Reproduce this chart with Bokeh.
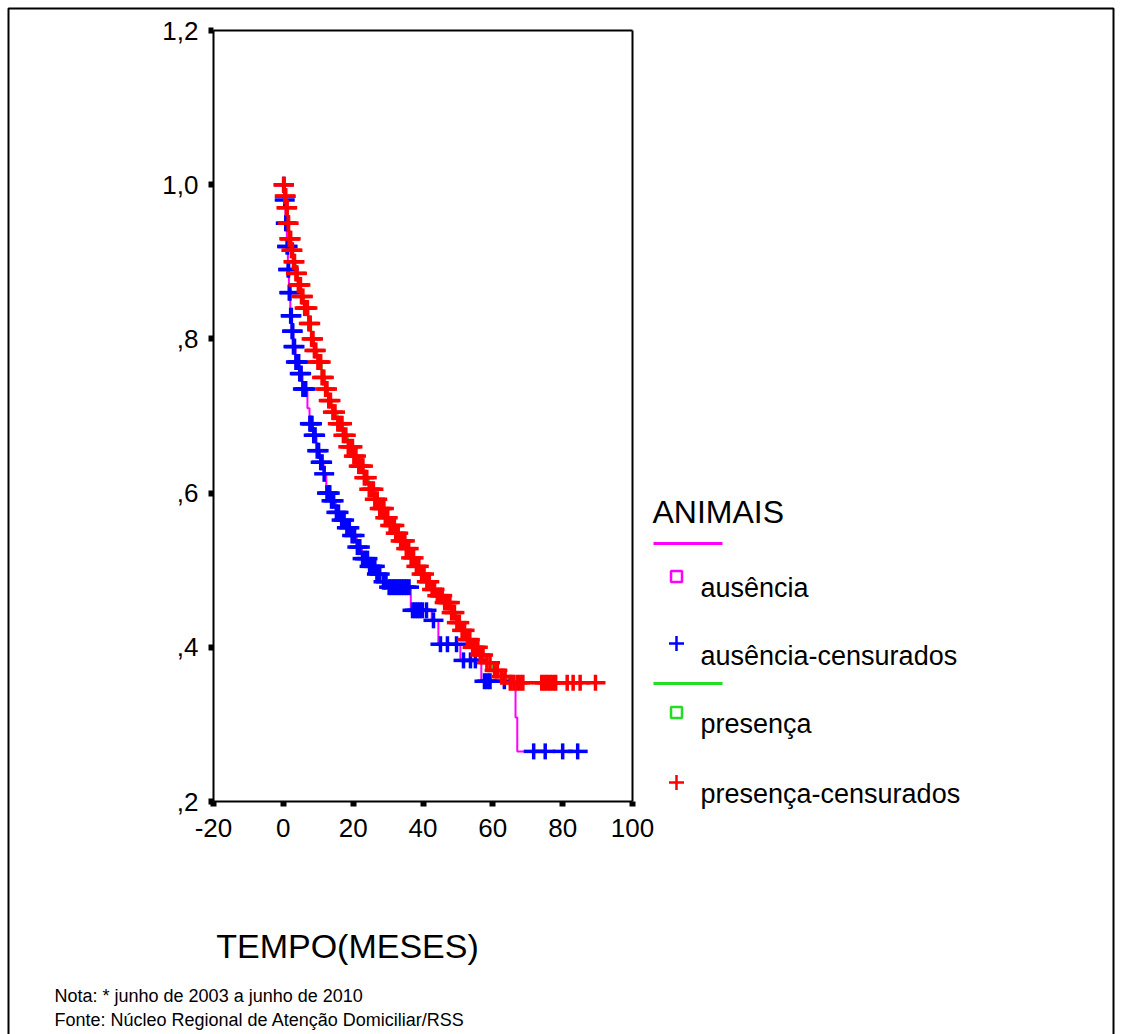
import math
from bokeh.plotting import figure
from bokeh.models import Range1d, FixedTicker, LinearAxis, BoxAnnotation
from bokeh.core.properties import value
from bokeh.embed import file_html
from bokeh.resources import INLINE

# ---------------- data ----------------
# Kaplan-Meier step curve, group "ausência" (time in months, survival)
aus_times = [0, 0.3, 0.6, 1.0, 1.3, 1.6, 2.0, 2.4, 2.8, 3.5, 4.5, 5.5, 6.9, 7.5, 8.5, 9.5,
             10.5, 11.5, 12.3, 13.5, 15.0, 16.5, 18.0, 19.5, 21.0, 22.5, 24.5, 26.5, 28.5,
             30.0, 36.5, 42.5, 44.4, 50.7, 56.7, 66.5, 67.0, 84.3]
aus_surv = [1.0, 0.98, 0.95, 0.92, 0.89, 0.86, 0.83, 0.81, 0.79, 0.77, 0.755, 0.735, 0.71,
            0.69, 0.675, 0.655, 0.64, 0.625, 0.60, 0.59, 0.575, 0.565, 0.555, 0.545, 0.53,
            0.515, 0.505, 0.495, 0.485, 0.478, 0.448, 0.435, 0.404, 0.383, 0.356, 0.309,
            0.265, 0.265]
# censored observations, group "ausência"
aus_cens_t = [0.1, 0.4, 0.7, 0.9, 1.1, 1.2, 1.4, 1.5, 1.7, 1.9, 2.1, 2.3, 2.5, 2.7, 2.9, 3.2,
              3.6, 4.0, 4.4, 4.7, 5.1, 5.6, 6.0, 6.4, 7.6, 7.9, 8.2, 8.7, 9.1, 9.7, 10.1,
              10.7, 11.1, 11.7, 12.5, 12.9, 13.3, 13.8, 14.4, 15.2, 15.8, 16.7, 17.4, 18.2,
              18.9, 19.7, 20.4, 21.2, 21.9, 22.7, 23.4, 24.1, 24.7, 25.5, 26.2, 26.8, 27.6,
              28.7, 29.4, 30.3, 31.0, 31.7, 32.4, 33.1, 33.8, 34.5, 35.2, 36.0, 37.0, 37.7,
              38.4, 39.1, 39.8, 41.0, 43.0, 45.0, 47.0, 49.6, 51.6, 53.6, 55.0, 57.6, 58.4,
              59.2, 63.3, 71.7, 75.0, 80.0, 84.3]
aus_cens_s = [1.0, 0.98, 0.95, 0.95, 0.92, 0.92, 0.89, 0.89, 0.86, 0.86, 0.83, 0.83, 0.81,
              0.81, 0.79, 0.79, 0.77, 0.77, 0.77, 0.755, 0.755, 0.735, 0.735, 0.735, 0.69,
              0.69, 0.69, 0.675, 0.675, 0.655, 0.655, 0.64, 0.64, 0.625, 0.60, 0.60, 0.60,
              0.59, 0.59, 0.575, 0.575, 0.565, 0.565, 0.555, 0.555, 0.545, 0.545, 0.53, 0.53,
              0.515, 0.515, 0.515, 0.505, 0.505, 0.505, 0.495, 0.495, 0.485, 0.485, 0.478,
              0.478, 0.478, 0.478, 0.478, 0.478, 0.478, 0.478, 0.478, 0.448, 0.448, 0.448,
              0.448, 0.448, 0.448, 0.435, 0.404, 0.404, 0.404, 0.383, 0.383, 0.383, 0.356,
              0.356, 0.356, 0.356, 0.265, 0.265, 0.265, 0.265]

# Kaplan-Meier step curve, group "presença"
pre_times = [0, 0.3, 0.8, 1.3, 1.6, 2.2, 2.8, 3.5, 4.2, 5.0, 6.0, 7.2, 8.0, 8.8, 9.8, 11.0,
             12.0, 12.8, 14.0, 15.5, 17.0, 18.5, 20.0, 21.5, 23.0, 24.5, 26.0, 27.5, 29.0,
             30.5, 32.0, 33.5, 35.0, 36.5, 38.0, 39.5, 41.0, 42.5, 44.0, 46.0, 48.0, 49.5,
             51.0, 52.5, 54.0, 56.0, 58.0, 60.0, 62.0, 64.5, 89.4]
pre_surv = [1.0, 0.985, 0.97, 0.95, 0.93, 0.915, 0.90, 0.885, 0.87, 0.855, 0.84, 0.82, 0.80,
            0.785, 0.77, 0.75, 0.735, 0.72, 0.705, 0.69, 0.675, 0.66, 0.648, 0.635, 0.62,
            0.605, 0.592, 0.58, 0.568, 0.558, 0.548, 0.538, 0.528, 0.516, 0.505, 0.495,
            0.485, 0.475, 0.467, 0.458, 0.445, 0.432, 0.422, 0.41, 0.40, 0.39, 0.38, 0.37,
            0.362, 0.354, 0.354]
# censored observations, group "presença"
pre_cens_t = [0.1, 0.2, 0.4, 0.5, 0.7, 0.9, 1.1, 1.4, 1.5, 1.7, 1.9, 2.1, 2.3, 2.6, 2.9, 3.2,
              3.6, 3.9, 4.3, 4.6, 4.9, 5.2, 5.6, 6.1, 6.5, 6.9, 7.3, 7.7, 8.1, 8.5, 8.9, 9.3,
              9.9, 10.3, 10.7, 11.1, 11.6, 12.1, 12.5, 13.0, 13.5, 14.2, 14.8, 15.6, 16.2,
              16.8, 17.2, 17.9, 18.6, 19.2, 19.8, 20.2, 20.8, 21.6, 22.2, 22.8, 23.2, 23.9,
              24.6, 25.2, 25.8, 26.2, 26.9, 27.6, 28.2, 28.8, 29.2, 29.9, 30.6, 31.2, 31.8,
              32.2, 32.9, 33.6, 34.2, 34.8, 35.2, 35.9, 36.6, 37.3, 38.1, 38.8, 39.6, 40.3,
              41.1, 41.8, 42.6, 43.3, 44.1, 44.8, 45.5, 46.2, 47.0, 47.7, 48.2, 49.0, 49.7,
              50.4, 51.2, 51.9, 52.7, 53.4, 54.2, 55.0, 55.7, 56.4, 57.2, 58.3, 59.2, 60.5,
              61.3, 62.5, 63.5, 65.0, 66.0, 67.0, 67.8, 68.6, 74.0, 74.8, 75.6, 76.4, 77.2,
              78.0, 81.3, 83.0, 85.0, 89.4]
pre_cens_s = [1.0, 1.0, 0.985, 0.985, 0.985, 0.97, 0.97, 0.95, 0.95, 0.93, 0.93, 0.93, 0.915,
              0.915, 0.90, 0.90, 0.885, 0.885, 0.87, 0.87, 0.87, 0.855, 0.855, 0.84, 0.84,
              0.84, 0.82, 0.82, 0.80, 0.80, 0.785, 0.785, 0.77, 0.77, 0.77, 0.75, 0.75, 0.735,
              0.735, 0.72, 0.72, 0.705, 0.705, 0.69, 0.69, 0.69, 0.675, 0.675, 0.66, 0.66,
              0.66, 0.648, 0.648, 0.635, 0.635, 0.635, 0.62, 0.62, 0.605, 0.605, 0.605, 0.592,
              0.592, 0.58, 0.58, 0.58, 0.568, 0.568, 0.558, 0.558, 0.558, 0.548, 0.548, 0.538,
              0.538, 0.538, 0.528, 0.528, 0.516, 0.516, 0.505, 0.505, 0.495, 0.495, 0.485,
              0.485, 0.475, 0.475, 0.467, 0.467, 0.467, 0.458, 0.458, 0.458, 0.445, 0.445,
              0.432, 0.432, 0.422, 0.422, 0.41, 0.41, 0.40, 0.40, 0.40, 0.39, 0.39, 0.38,
              0.38, 0.37, 0.37, 0.362, 0.362, 0.354, 0.354, 0.354, 0.354, 0.354, 0.354, 0.354,
              0.354, 0.354, 0.354, 0.354, 0.354, 0.354, 0.354, 0.354]

x_ticks = [-20, 0, 20, 40, 60, 80, 100]
x_tick_labels = ["-20", "0", "20", "40", "60", "80", "100"]
y_ticks = [0.2, 0.4, 0.6, 0.8, 1.0, 1.2]
y_tick_labels = [",2", ",4", ",6", ",8", "1,0", "1,2"]

legend_title = "ANIMAIS"
legend_labels = ["ausência", "ausência-censurados", "presença", "presença-censurados"]
x_title = "TEMPO(MESES)"
note_lines = ["Nota: * junho de 2003 a junho de 2010",
              "Fonte: Núcleo Regional de Atenção Domiciliar/RSS"]

# ---------------- layout / styling ----------------
FONT = "Liberation Sans"
MAGENTA = "#ff00ff"
GREEN = "#22dd22"
BLUE = "#0000ff"
RED = "#ff0000"

W, H = 1121, 1034
FL, FR, FT, FB = 213, 632, 30, 801  # plot box edges (px)
XMIN, XMAX, YMIN, YMAX = -20, 100, 0.2, 1.2
SX = (FR - FL) / (XMAX - XMIN)
SY = (FB - FT) / (YMAX - YMIN)


def dx(px):
    return XMIN + (px - FL) / SX


def dy(py):
    return YMAX - (py - FT) / SY


p = figure(width=W, height=H, output_backend="svg", toolbar_location=None,
           x_range=Range1d(dx(0), dx(W)), y_range=Range1d(dy(H), dy(0)),
           x_axis_location=None, y_axis_location=None,
           min_border_left=0, min_border_right=0, min_border_top=0, min_border_bottom=0,
           background_fill_color="white", border_fill_color="white")
p.grid.visible = False
p.outline_line_color = None

# outer box of the exported picture (bottom edge lies below the picture)
p.add_layout(BoxAnnotation(left=dx(8), right=dx(1113), top=dy(8), bottom=dy(1060),
                           fill_alpha=0, line_color="black", line_alpha=1.0,
                           line_width=2, editable=False))


def style_axis(ax):
    ax.axis_line_color = "black"
    ax.axis_line_width = 2
    ax.major_tick_line_color = "black"
    ax.major_tick_line_width = 6
    ax.major_tick_out = 5
    ax.major_tick_in = 0
    ax.minor_tick_line_color = None
    ax.major_label_text_font = FONT
    ax.major_label_text_font_size = "26px"
    ax.major_label_text_color = "black"


xaxis = LinearAxis(fixed_location=YMIN, bounds=(XMIN, XMAX),
                   ticker=FixedTicker(ticks=x_ticks),
                   major_label_overrides={t: l for t, l in zip(x_ticks, x_tick_labels)},
                   major_label_standoff=12)
yaxis = LinearAxis(fixed_location=XMIN, bounds=(YMIN, YMAX),
                   ticker=FixedTicker(ticks=y_ticks),
                   major_label_overrides={t: l for t, l in zip(y_ticks, y_tick_labels)},
                   major_label_standoff=10)
style_axis(xaxis)
style_axis(yaxis)
top_axis = LinearAxis(fixed_location=YMAX, bounds=(XMIN, XMAX), ticker=FixedTicker(ticks=[]),
                      axis_line_width=2, axis_line_color="black", major_label_text_alpha=0)
right_axis = LinearAxis(fixed_location=XMAX, bounds=(YMIN, YMAX), ticker=FixedTicker(ticks=[]),
                        axis_line_width=2, axis_line_color="black", major_label_text_alpha=0)
p.add_layout(xaxis, "below")
p.add_layout(yaxis, "left")
p.add_layout(top_axis, "above")
p.add_layout(right_axis, "right")

# survival step lines
p.step(aus_times, aus_surv, mode="after", line_color=MAGENTA, line_width=2)
p.step(pre_times, pre_surv, mode="after", line_color=GREEN, line_width=2)


# censored marks: SPSS-style plus signs (wider than tall)
def censor_marks(t, s, color):
    p.scatter(t, s, marker="dash", size=20, line_width=3.5, line_color=color)
    p.scatter(t, s, marker="dash", angle=math.pi / 2, size=16, line_width=3.5,
              line_color=color)


censor_marks(aus_cens_t, aus_cens_s, BLUE)
censor_marks(pre_cens_t, pre_cens_s, RED)

# ---------------- legend (drawn by hand, SPSS style) ----------------
LX0, LX1 = 653, 722      # legend line sample extent (px)
LSYM = 676               # legend symbol centre x (px)
LTXT = 700               # legend text left (px)
p.segment(x0=[dx(LX0), dx(LX0)], y0=[dy(543), dy(683)],
          x1=[dx(LX1), dx(LX1)], y1=[dy(543), dy(683)],
          line_color=[MAGENTA, GREEN], line_width=3)
p.scatter(x=[dx(LSYM), dx(LSYM)], y=[dy(576), dy(712)], marker="square", size=11,
          fill_color=None, line_color=[MAGENTA, GREEN], line_width=2.5)
p.scatter(x=[dx(LSYM), dx(LSYM)], y=[dy(643), dy(782)], marker="cross", size=15,
          line_color=[BLUE, RED], line_width=2.5)

p.text(x=[dx(652)], y=[dy(511)], text=[legend_title], text_font=value(FONT),
       text_font_size="32px", text_baseline="middle", text_align="left", text_color="black")
p.text(x=[dx(LTXT)] * 4, y=[dy(587), dy(655), dy(723), dy(793)], text=legend_labels,
       text_font=value(FONT), text_font_size="27px", text_baseline="middle",
       text_align="left", text_color="black")

# axis title and notes
p.text(x=[dx(347)], y=[dy(945)], text=[x_title], text_font=value(FONT),
       text_font_size="34px", text_baseline="middle", text_align="center", text_color="black")
p.text(x=[dx(54), dx(54)], y=[dy(995), dy(1019)], text=note_lines, text_font=value(FONT),
       text_font_size="18px", text_baseline="middle", text_align="left", text_color="black")

open("out.html", "w").write(file_html(p, INLINE))
